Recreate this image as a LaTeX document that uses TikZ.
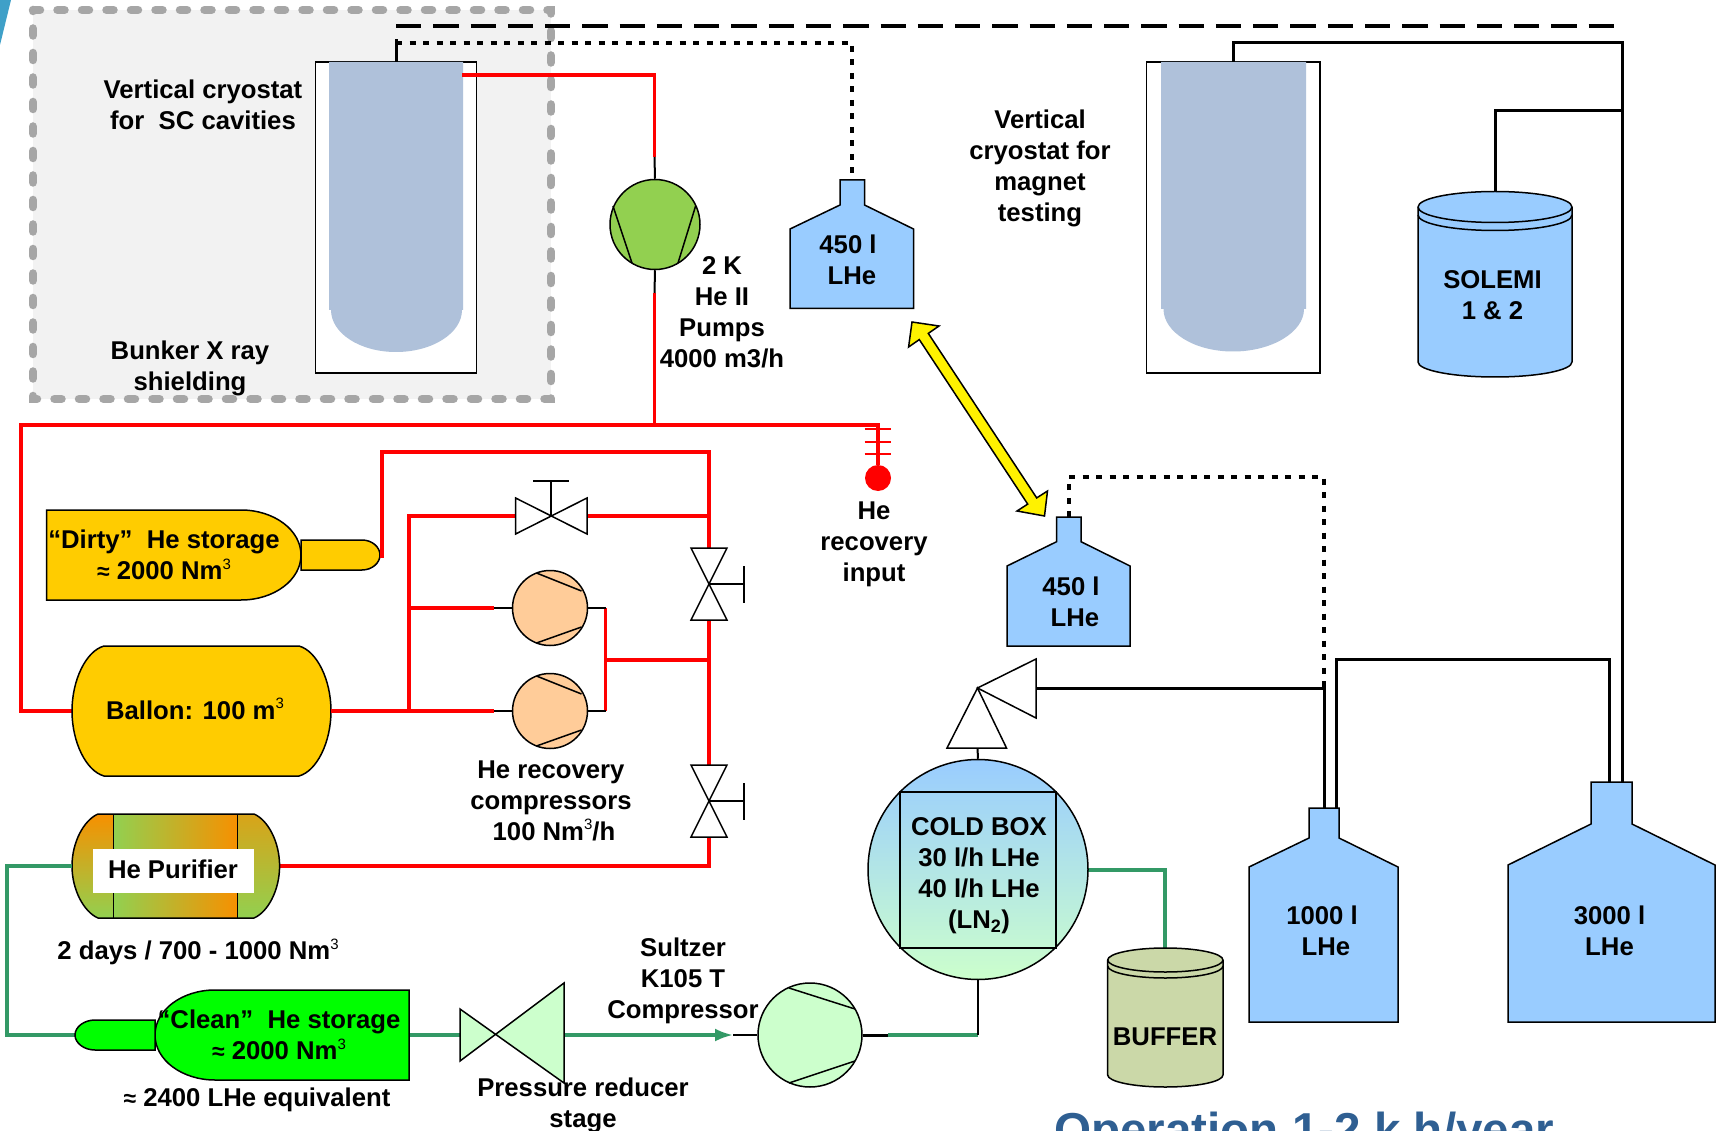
\documentclass[tikz,border=0pt]{standalone}
\usepackage{fontspec}
\setmainfont{Liberation Sans}
\usetikzlibrary{arrows.meta}
\definecolor{bunkerfill}{HTML}{F2F2F2}
\definecolor{bunkerdash}{HTML}{A6A6A6}
\definecolor{cryofill}{HTML}{AFC1DA}
\definecolor{tankblue}{HTML}{99CCFF}
\definecolor{pumpgreen}{HTML}{92D050}
\definecolor{amber}{HTML}{FFCC00}
\definecolor{peach}{HTML}{FFCC99}
\definecolor{palegreen}{HTML}{CCFFCC}
\definecolor{pipegreen}{HTML}{339966}
\definecolor{bufferfill}{HTML}{CBD8A8}
\definecolor{purorange}{HTML}{F79000}
\definecolor{titleblue}{HTML}{2F5F92}
\definecolor{cornerblue}{HTML}{3FA0C8}
\tikzset{
  outline/.style={draw=black,line width=1.5pt},
  redpipe/.style={draw=red,line width=3.3pt,line join=miter},
  greenpipe/.style={draw=pipegreen,line width=3.2pt,line join=miter},
  blackpipe/.style={draw=black,line width=3pt,line join=miter},
  thinpipe/.style={draw=black,line width=2pt},
  dotpipe/.style={draw=black,line width=4pt,dash pattern=on 6pt off 7.5pt},
  longdash/.style={draw=black,line width=3.5pt,dash pattern=on 25.27pt off 12pt},
  lbl/.style={font=\fontsize{25.7}{31}\selectfont\bfseries,align=center,inner sep=0pt,text=black},
  pumpball/.style={circle,draw=black,line width=1.5pt,inner sep=0pt,minimum size=#1},
}
\newcommand{\lhetank}[8]{\draw[outline,fill=tankblue] (#1,#8) -- (#1,#7) -- (#3,#6) -- (#3,#5) -- (#4,#5) -- (#4,#6) -- (#2,#7) -- (#2,#8) -- cycle;}
\newcommand{\approxsym}{{\fontsize{23}{23}\selectfont ≈}}
\newcommand{\cubed}{\raisebox{10.5pt}{\fontsize{15}{15}\selectfont\mdseries 3}}
\begin{document}
\begin{tikzpicture}[x=1pt,y=-1pt]
\useasboundingbox (0,0) rectangle (1727,1131);
\fill[white] (0,0) rectangle (1727,1131);
\fill[cornerblue] (0,0) -- (11,0) -- (0,45) -- cycle;

% bunker
\draw[fill=bunkerfill,draw=bunkerdash,line width=8.5pt,line cap=round,dash pattern=on 7pt off 17.5pt] (33,10) -- (551,10) -- (551,399) -- (33,399) -- cycle;

% cryostats
\draw[outline,fill=white] (315.5,62) rectangle (476.7,373);
\fill[cryofill] (329,62) -- (463,62) -- (463,310) -- (462,310) .. controls (462,333) and (432.5,352) .. (396,352) .. controls (359.5,352) and (331,333) .. (331,310) -- (329,310) -- cycle;
\draw[outline,fill=white] (1146.5,62) rectangle (1320,373);
\fill[cryofill] (1161,62) -- (1306,62) -- (1306,309) -- (1304,309) .. controls (1304,332) and (1272,351.5) .. (1233,351.5) .. controls (1194,351.5) and (1163.5,332) .. (1163.5,309) -- (1161,309) -- cycle;

% named points
\coordinate (cryoAtop) at (396,62);
\coordinate (cryoAstub) at (396,39);
\coordinate (cryoAdot) at (396,43);
\coordinate (cryoAout) at (462,75);
\coordinate (cryoBtop) at (1233,62);
\coordinate (topdashend) at (1614,26);
\coordinate (topdashstart) at (396,26);
\coordinate (tankAtop) at (852,180);
\coordinate (tankBtop) at (1068.6,517);
\coordinate (tankBbend) at (1068.6,477);
\coordinate (tankCtopL) at (1324,808);
\coordinate (tankCtopR) at (1336,808);
\coordinate (tankCbend) at (1336,659);
\coordinate (tankDtopL) at (1609,782);
\coordinate (tankDtopR) at (1622.5,782);
\coordinate (solemitop) at (1495.5,191.5);
\coordinate (junctionTop) at (1622.5,111);
\coordinate (hpTurbine) at (1036,688);
\coordinate (joint) at (1324,688);
\coordinate (mainrun) at (654.5,425);
\coordinate (recovery) at (878,465);
\coordinate (ballonL) at (72,711);
\coordinate (ballonR) at (331,711);
\coordinate (dirtyNeck) at (380,556);
\coordinate (valveTL) at (515.6,516);
\coordinate (valveTR) at (587,516);
\coordinate (valveRt) at (709,548);
\coordinate (valveRb) at (709,620);
\coordinate (valveSt) at (709,765);
\coordinate (valveSb) at (709,837);
\coordinate (purR) at (280,866);
\coordinate (purL) at (72,866);
\coordinate (cleanNeck) at (75,1035);
\coordinate (cleanR) at (409,1035);
\coordinate (redL) at (460,1035);
\coordinate (redR) at (564,1035);
\coordinate (arrowtip) at (733,1035);
\coordinate (bufferTop) at (1165,948);

% pipes: black
\draw[longdash] (topdashstart) -- (topdashend);
\draw[blackpipe] (cryoAtop) -- (cryoAstub);
\draw[dotpipe] (cryoAdot) -| (tankAtop);
\draw[blackpipe] (cryoBtop) |- (1622.5,42.5) -- (tankDtopR);
\draw[blackpipe] (solemitop) |- (junctionTop);
\draw[dotpipe] (tankBtop) -- (tankBbend) -| (joint);
\draw[blackpipe] (hpTurbine) -- (joint) -- (tankCtopL);
\draw[blackpipe] (tankCtopR) -- (tankCbend) -| (tankDtopL);

% tanks
\lhetank{790}{913.5}{840}{864.5}{180}{205}{229}{308.5}
\lhetank{1007}{1130}{1056.6}{1081}{517}{541.7}{566}{646}
\lhetank{1249}{1398}{1309}{1339}{808}{838}{867}{1022}
\lhetank{1508}{1715}{1591}{1632}{782}{824}{865}{1022}

% SOLEMI
\draw[outline,fill=tankblue] (1418,207) .. controls (1418,198.4) and (1452.5,191.5) .. (1495,191.5) .. controls (1537.5,191.5) and (1572,198.4) .. (1572,207) -- (1572,362) .. controls (1572,370.3) and (1537.5,377) .. (1495,377) .. controls (1452.5,377) and (1418,370.3) .. (1418,362) -- cycle;
\draw[outline] (1418,207) .. controls (1418,215.6) and (1452.5,222.5) .. (1495,222.5) .. controls (1537.5,222.5) and (1572,215.6) .. (1572,207);
\draw[outline] (1418,215) .. controls (1418,223.6) and (1452.5,230.5) .. (1495,230.5) .. controls (1537.5,230.5) and (1572,223.6) .. (1572,215);

% BUFFER
\draw[greenpipe] (1088,870) -| (bufferTop);
\draw[outline,fill=bufferfill] (1107.7,960) .. controls (1107.7,953.4) and (1133.6,948) .. (1165.4,948) .. controls (1197.2,948) and (1223,953.4) .. (1223,960) -- (1223,1075) .. controls (1223,1081.6) and (1197.2,1087) .. (1165.4,1087) .. controls (1133.6,1087) and (1107.7,1081.6) .. (1107.7,1075) -- cycle;
\draw[outline] (1107.7,960) .. controls (1107.7,966.6) and (1133.6,972) .. (1165.4,972) .. controls (1197.2,972) and (1223,966.6) .. (1223,960);
\draw[outline] (1107.7,966) .. controls (1107.7,972.6) and (1133.6,978) .. (1165.4,978) .. controls (1197.2,978) and (1223,972.6) .. (1223,966);

% yellow transfer arrow
\draw[outline,fill=yellow,line join=miter] (912,322) -- (939,326) -- (928.3,333.4) -- (1036.7,497.9) -- (1047.5,491) -- (1044.5,516) -- (1017,511) -- (1027.7,504.1) -- (919.3,339.6) -- (908.6,347) -- cycle;

% red main
\draw[redpipe] (cryoAout) -| (654.5,157);
\draw[redpipe] (654.5,293) -- (mainrun);
\draw[redpipe] (ballonL) -| (21,425) -- (878,425) -- (recovery);
\draw[draw=red,line width=2.6pt] (864.5,429) -- (891,429) (864.5,442) -- (891,442) (864.5,454) -- (891,454);
\node[circle,fill=red,inner sep=0pt,minimum size=26pt] (recball) at (878,478) {};

% pump
\node[pumpball=90pt,fill=pumpgreen] (pump) at (655,224.5) {};
\draw[thinpipe] (654.5,157) -- (pump.north);
\draw[thinpipe] (pump.south) -- (654.5,293);
\draw[outline] (613,206) -- (632,263) (695.6,206) -- (678,263);

% dirty storage
\draw[outline,fill=amber] (301,555) .. controls (301,530) and (274,510) .. (241,510) -- (46.6,510) -- (46.6,600) -- (241,600) .. controls (274,600) and (301,580) .. (301,555) -- cycle;
\draw[outline,fill=amber] (301,540) -- (362,540) .. controls (372,540) and (380,547) .. (380,555) .. controls (380,563) and (372,570) .. (362,570) -- (301,570) -- cycle;

% ballon
\draw[outline,fill=amber] (104,646) -- (299,646) .. controls (317,651) and (331,680) .. (331,711) .. controls (331,742) and (317,771) .. (299,776) -- (104,776) .. controls (86,771) and (72,742) .. (72,711) .. controls (72,680) and (86,651) .. (104,646) -- cycle;

% recovery network
\draw[redpipe] (dirtyNeck) -- (382,556) |- (709,452) -- (valveRt);
\draw[redpipe] (valveTL) -| (409,711);
\draw[redpipe] (valveTR) -- (709,516);
\draw[redpipe] (ballonR) -- (494,711);
\draw[redpipe] (409,608) -- (494,608);
\draw[redpipe] (605.6,608) -- (605.6,711);
\draw[redpipe] (605.6,660) -- (709,660);
\draw[redpipe] (valveRb) -- (valveSt);
\draw[redpipe] (valveSb) |- (purR);

% compressors
\node[pumpball=75pt,fill=peach] (compA) at (550,608) {};
\node[pumpball=75pt,fill=peach] (compB) at (550,711) {};
\draw[thinpipe] (494,608) -- (compA.west) (compA.east) -- (605.6,608);
\draw[thinpipe] (494,711) -- (compB.west) (compB.east) -- (605.6,711);
\draw[outline] (536.5,573) -- (581.5,591) (536.5,643) -- (581.5,627);
\draw[outline] (536.5,676) -- (581.5,694) (536.5,746) -- (581.5,730);

% valves
\draw[outline,fill=white,line join=miter] (515.6,498) -- (587,534) -- (587,498) -- (515.6,534) -- cycle;
\draw[outline] (551,516) -- (551,481) (533,481) -- (569,481);
\draw[outline,fill=white,line join=miter] (691,548) -- (727,620) -- (691,620) -- (727,548) -- cycle;
\draw[outline] (709,584) -- (744,584) (744,566) -- (744,603);
\draw[outline,fill=white,line join=miter] (691,765) -- (727,837) -- (691,837) -- (727,765) -- cycle;
\draw[outline] (709,801) -- (744,801) (744,783) -- (744,820);

% purifier
\shade[top color=purorange,bottom color=pumpgreen] (113.7,814) -- (98,814) .. controls (84,820) and (72,842) .. (72,866) .. controls (72,890) and (84,912) .. (98,918) -- (113.7,918) -- cycle;
\shade[top color=purorange!70!pumpgreen,bottom color=pumpgreen] (237.7,814) -- (254,814) .. controls (268,820) and (279.6,842) .. (279.6,866) .. controls (279.6,890) and (268,912) .. (254,918) -- (237.7,918) -- cycle;
\shade[left color=pumpgreen,right color=purorange] (113.7,814) rectangle (237.7,918);
\draw[outline] (98,814) -- (254,814) .. controls (268,820) and (279.6,842) .. (279.6,866) .. controls (279.6,890) and (268,912) .. (254,918) -- (98,918) .. controls (84,912) and (72,890) .. (72,866) .. controls (72,842) and (84,820) .. (98,814) -- cycle;
\draw[outline] (113.7,814) -- (113.7,918) (237.7,814) -- (237.7,918);
\fill[white] (93,849) rectangle (254,893);

% green line
\draw[greenpipe] (purL) -| (7,1035) -- (cleanNeck);
\draw[greenpipe] (cleanR) -- (redL);
\draw[greenpipe,-{Latex[length=18pt,width=13pt]}] (redR) -- (arrowtip);

% clean storage
\draw[outline,fill=green] (155,1035) .. controls (155,1010) and (182,990) .. (215,990) -- (409,990) -- (409,1080) -- (215,1080) .. controls (182,1080) and (155,1060) .. (155,1035) -- cycle;
\draw[outline,fill=green] (155,1020) -- (95,1020) .. controls (84,1020) and (75,1027) .. (75,1035) .. controls (75,1043) and (84,1050) .. (95,1050) -- (155,1050) -- cycle;

% pressure reducer
\draw[outline,fill=palegreen,line join=miter] (460,1009) -- (460,1061) -- (564,983) -- (564,1083) -- cycle;

% sultzer compressor
\node[pumpball=104pt,fill=palegreen] (sultzer) at (810,1035) {};
\draw[outline] (789,988) -- (855,1009) (789,1083) -- (855,1061);
\draw[thinpipe] (arrowtip) -- (sultzer.west);
\coordinate (tobox) at (888,1035);
\coordinate (boxbend) at (978,1035);
\draw[thinpipe,line width=3pt] (sultzer.east) -- (tobox);
\draw[greenpipe] (tobox) -- (boxbend);

% cold box
\node[pumpball=220pt,top color=tankblue,bottom color=palegreen] (coldbox) at (978,869.5) {};
\draw[thinpipe] (boxbend) -- (coldbox.south);
\draw[outline] (900,792) rectangle (1056,948);
\draw[thinpipe] (coldbox.north) -- (977.5,748);
\draw[outline,fill=white,line join=miter] (977.5,688) -- (947,748) -- (1006.5,748) -- cycle;
\draw[outline,fill=white,line join=miter] (977.5,688) -- (1036,659) -- (1036,718) -- cycle;

% labels
\node[lbl] (t1) at (203,104.5) {Vertical cryostat\\for\ \ SC cavities};
\node[lbl] (t2) at (190,368) {Bunker X ray\\shielding};
\node[lbl] (t3) at (722,312.5) {2 K\\He II\\Pumps\\4000 m3/h};
\node[lbl] (t4) at (1040,168) {Vertical\\cryostat for\\magnet\\testing};
\node[lbl] (t5) at (852,260) {\makebox[0pt]{\hspace{-8pt}450 l}\\LHe};
\node[lbl] (t6) at (1075,601.5) {\makebox[0pt]{\hspace{-8pt}450 l}\\LHe};
\node[lbl] (t7) at (1492.5,295) {SOLEMI\\1 \& 2};
\node[lbl] (t8) at (874,544) {He\\recovery\\input};
\node[lbl] (t9) at (164,555) {“Dirty”\ \ He storage\\\approxsym{} 2000 Nm\cubed};
\node[lbl] (t10) at (195,709) {Ballon: 100 m\cubed};
\node[lbl] (t11) at (551,800.5) {He recovery\\compressors\\\hspace{6pt}100 Nm\cubed/h};
\node[lbl] (t12) at (173,869) {He Purifier};
\node[lbl] (t13) at (198,952) {2 days / 700 - 1000 Nm\cubed};
\node[lbl] (t14) at (279,1035) {“Clean”\ \ He storage\\\approxsym{} 2000 Nm\cubed};
\node[lbl] (t15) at (257,1100) {\approxsym{} 2400 LHe equivalent};
\node[lbl] (t16) at (583,1105) {Pressure reducer\\stage};
\node[lbl] (t17) at (683,981) {Sultzer\\K105 T\\Compressor};
\node[lbl] (t18) at (979,876) {COLD BOX\\30 l/h LHe\\40 l/h LHe\\(LN\textsubscript{2})};
\node[lbl] (t19) at (1165,1037) {BUFFER};
\node[lbl] (t20) at (1326,930.5) {\makebox[0pt]{\hspace{-8pt}1000 l}\\LHe};
\node[lbl] (t21) at (1609.5,930.5) {3000 l\\LHe};
\begin{scope}
\clip (0,0) rectangle (1727,1131);
\node[anchor=base west,inner sep=0pt,text=titleblue,font=\fontsize{47.6}{50}\selectfont\bfseries] (title) at (1054,1146) {Operation 1-2 k h/year};
\end{scope}
\end{tikzpicture}
\end{document}
